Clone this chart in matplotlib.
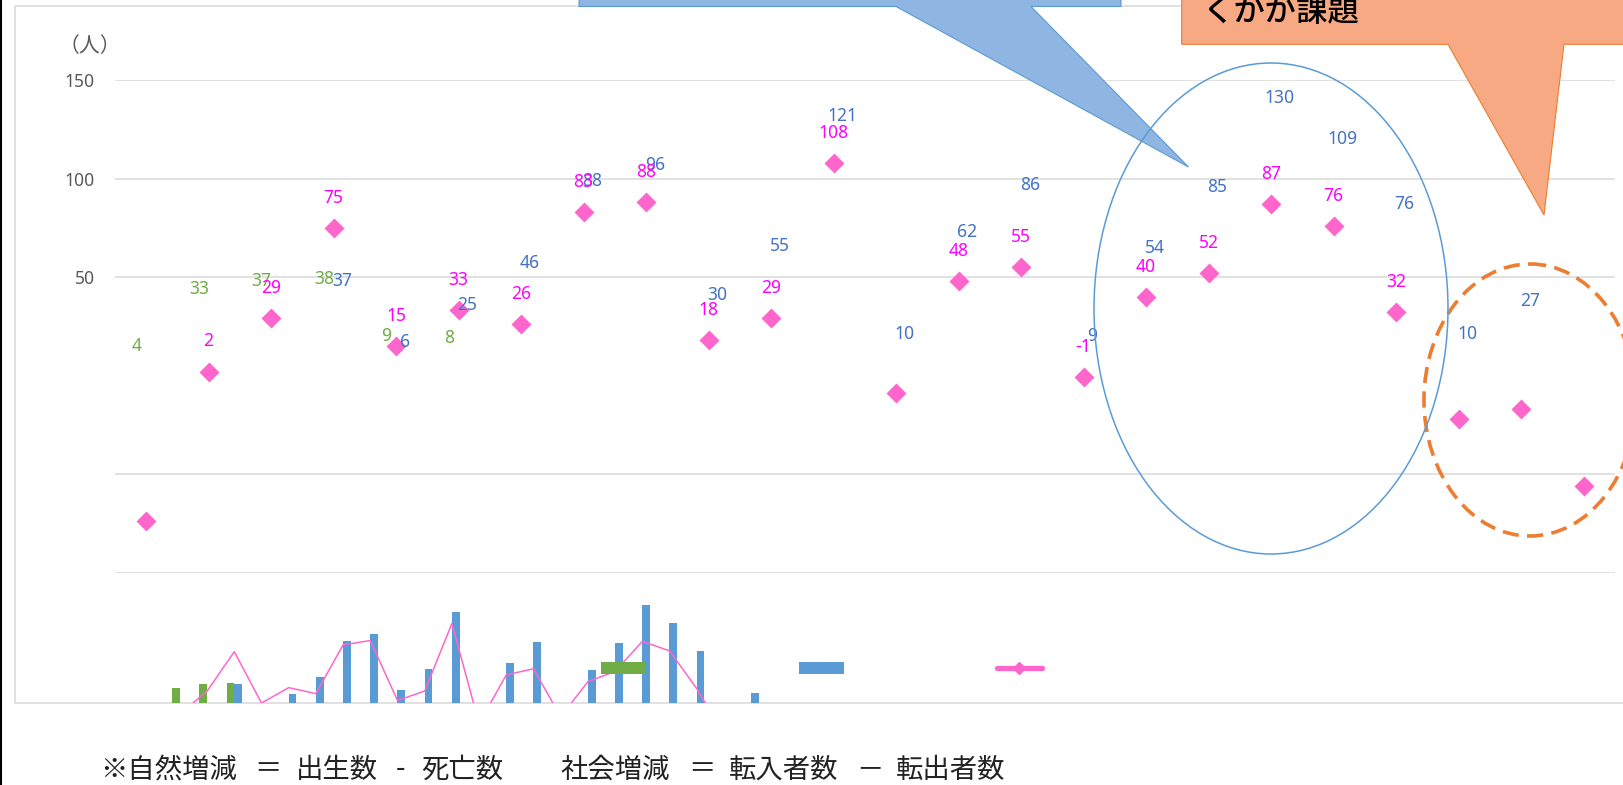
import matplotlib
matplotlib.use("Agg")
import matplotlib.pyplot as plt
from matplotlib.patches import Ellipse, Polygon, Rectangle, Patch
from matplotlib.lines import Line2D
import numpy as np

plt.rcParams['font.family'] = ['Noto Sans', 'Noto Sans CJK JP', 'DejaVu Sans']

# ---------------- data ----------------
periods = [f"期間{i}" for i in range(1, 25)]
natural_change = [4, 33, 37, 38, 9, 8, -20, -5, -8, -12, -26, -13,
                  -19, -14, -31, -10, -14, -33, -43, -33, -44, -32, -44, -40]
social_change = [-78, -31, -8, 37, 6, 25, 46, 88, 96, 30, 55, 121,
                 10, 62, 86, 9, 54, 85, 130, 109, 76, 10, 27, -16]
total_change = [-74, 2, 29, 75, 15, 33, 26, 83, 88, 18, 29, 108,
                -9, 48, 55, -1, 40, 52, 87, 76, 32, -22, -17, -56]
y_ticks = [-100, -50, 50, 100, 150]
y_tick_labels = ["", "", "50", "100", "150"]
unit_label = "（人）"
note_tokens = ["※自然増減", "＝", "出生数", "-", "死亡数",
               "社会増減", "＝", "転入者数", "－", "転出者数"]
callout_text = "くかが課題"

# ---------------- layout helpers ----------------
W, H, DPI = 1623, 785, 100
fig = plt.figure(figsize=(W / DPI, H / DPI), dpi=DPI)


def fr(x0, y0, x1, y1):
    return [x0 / W, 1 - y1 / H, (x1 - x0) / W, (y1 - y0) / H]


PT = 72 / DPI  # points per pixel

# background frame
bg = fig.add_axes([0, 0, 1, 1], zorder=0)
bg.set_xlim(0, W)
bg.set_ylim(H, 0)
bg.axis('off')
bg.add_patch(Rectangle((14.5, 6), W, 697, fill=False, edgecolor='#D9D9D9', lw=1.1))
bg.plot([1, 1], [0, H], color='black', lw=1.5)

# ---------------- main chart ----------------
ax = fig.add_axes(fr(114.8, 80, 1614.8, 572.5), zorder=1)
ax.set_facecolor('none')
x = np.arange(len(periods))
ax.set_xlim(-0.5, len(periods) - 0.5)
ax.set_ylim(-100, 150)
ax.set_yticks(y_ticks)
ax.set_yticklabels(y_tick_labels)
ax.set_xticks([])
ax.grid(axis='y', color='#D9D9D9', lw=1.1)
ax.set_axisbelow(True)
for s in ax.spines.values():
    s.set_visible(False)
ax.tick_params(axis='y', length=0, pad=20.2 * PT, labelsize=12.6, labelcolor='#595959')

ax.plot(x, total_change, ls='none', marker='D', ms=9.7, color='#FF66CC', mec='none', zorder=3)

lab_fs = 12.6
for xi, v in zip(x, natural_change):
    if v >= 0:
        ax.annotate(str(v), (xi, v), xytext=(-9.8 * PT, 16.4 * PT), textcoords='offset points',
                    ha='center', va='baseline', fontsize=lab_fs, color='#70AD47')
for xi, v in zip(x, social_change):
    if v >= 0:
        ax.annotate(str(v), (xi, v), xytext=(8.7 * PT, 16.4 * PT), textcoords='offset points',
                    ha='center', va='baseline', fontsize=lab_fs, color='#4472C4')
for xi, v in zip(x, total_change):
    if v >= -1:
        ax.annotate(str(v), (xi, v), xytext=(0, 25.2 * PT), textcoords='offset points',
                    ha='center', va='baseline', fontsize=lab_fs, color='#FF00FF')

# ---------------- miniature chart ----------------
mini = fig.add_axes(fr(139.1, 585, 139.1 + 652.8, 703), zorder=1)
mini.set_xlim(-0.5, len(periods) - 0.5)
mini.set_ylim(15.07, 152.9)
mini.axis('off')
mini.bar(x, natural_change, width=-0.28, align='edge', color='#70AD47')
mini.bar(x, social_change, width=0.28, align='edge', color='#5B9BD5')
mini.plot(x, total_change, color='#FF66CC', lw=1.1)

handles = [Patch(facecolor='#70AD47', edgecolor='none'),
           Patch(facecolor='#5B9BD5', edgecolor='none'),
           Line2D([], [], color='#FF66CC', lw=3.8, marker='D', ms=6.6,
                  solid_capstyle='round')]
fig.legend(handles, ['', '', ''], loc='center left', bbox_to_anchor=(601 / W, 1 - 670 / H),
           bbox_transform=fig.transFigure, ncol=3, frameon=False, fontsize=12.3,
           handlelength=2.63, handleheight=0.7, handletextpad=0, columnspacing=8.96,
           borderpad=0, borderaxespad=0)

# ---------------- overlay: callouts, ellipses, notes ----------------
fg = fig.add_axes([0, 0, 1, 1], zorder=3)
fg.set_xlim(0, W)
fg.set_ylim(H, 0)
fg.axis('off')
fg.patch.set_alpha(0)

fg.add_patch(Polygon([(579, -20), (1121, -20), (1121, 6.5), (1031, 6.5), (1188.5, 167),
                      (896, 6.5), (579, 6.5)], closed=True,
                     facecolor='#8FB5E2', edgecolor='#5B9BD5', lw=0.8))
fg.add_patch(Polygon([(1181.7, -20), (1640, -20), (1640, 44.3), (1564, 44.3), (1544, 215),
                      (1448, 44.3), (1181.7, 44.3)], closed=True,
                     facecolor='#F7A983', edgecolor='#ED7D31', lw=0.8))
fg.text(1203, 20.5, callout_text, fontsize=22.6, family=['Noto Sans CJK JP'],
        ha='left', va='baseline', color='black', fontweight='medium')

fg.add_patch(Ellipse((1530, 400), 212, 272, fill=False, edgecolor='#ED7D31', lw=2.6,
                     linestyle=(0, (4.5, 2.3))))
fg.add_patch(Ellipse((1271, 308.5), 354, 491, fill=False, edgecolor='#5B9BD5', lw=1.1))

fg.text(90, 46, unit_label, fontsize=15, family=['Noto Sans CJK JP'], ha='center', va='center',
        color='#595959')

note_pos = [(100, 'left'), (268, 'center'), (296, 'left'), (400.5, 'center'), (421, 'left'),
            (560, 'left'), (701.5, 'center'), (729, 'left'), (869.5, 'center'), (896, 'left')]
for tok, (px, ha) in zip(note_tokens, note_pos):
    fg.text(px, 770, tok, fontsize=19.7, family=['Noto Sans CJK JP'], ha=ha, va='center',
            color='#222222')

fig.savefig('out.png', dpi=DPI)
